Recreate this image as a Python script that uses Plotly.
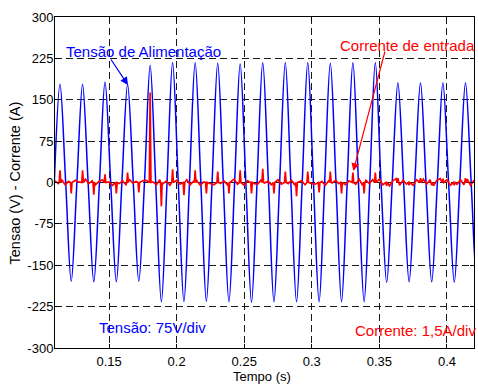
import numpy as np
import plotly.graph_objects as go

# ---------------- data ----------------
# supply voltage: zero crossings and extremes (time in s, value in V)
volt_t = [0.1095, 0.1137, 0.1179, 0.1220, 0.1262, 0.1304, 0.1345, 0.1387, 0.1429, 0.1470,
          0.1512, 0.1554, 0.1595, 0.1637, 0.1679, 0.1720, 0.1762, 0.1804, 0.1845, 0.1887,
          0.1929, 0.1970, 0.2012, 0.2054, 0.2095, 0.2137, 0.2179, 0.2220, 0.2262, 0.2304,
          0.2345, 0.2387, 0.2429, 0.2470, 0.2512, 0.2554, 0.2595, 0.2637, 0.2679, 0.2720,
          0.2762, 0.2804, 0.2845, 0.2887, 0.2929, 0.2970, 0.3012, 0.3054, 0.3095, 0.3137,
          0.3179, 0.3220, 0.3262, 0.3304, 0.3345, 0.3387, 0.3429, 0.3470, 0.3512, 0.3554,
          0.3595, 0.3637, 0.3679, 0.3720, 0.3762, 0.3804, 0.3845, 0.3887, 0.3929, 0.3970,
          0.4012, 0.4054, 0.4095, 0.4137, 0.4179, 0.4220, 0.4262]
volt_v = [0, 178, 0, -179, 0, 178, 0, -180, 0, 182,
          0, -180, 0, 178, 0, -179, 0, 212, 0, -216,
          0, 217, 0, -216, 0, 217, 0, -215, 0, 216,
          0, -216, 0, 215, 0, -217, 0, 217, 0, -216,
          0, 217, 0, -216, 0, 217, 0, -216, 0, 216,
          0, -216, 0, 217, 0, -216, 0, 217, 0, -181,
          0, 181, 0, -180, 0, 181, 0, -180, 0, 181,
          0, -181, 0, 181, 0, -180, 0]

# input current: pulses (time in s, value on the plot scale)
spike_t = [0.1137, 0.1220, 0.1304, 0.1387, 0.1470, 0.1554, 0.1637, 0.1720, 0.1804, 0.1887,
           0.1970, 0.2054, 0.2137, 0.2220, 0.2304, 0.2387, 0.2470, 0.2554, 0.2637, 0.2720,
           0.2804, 0.2887, 0.2970, 0.3054, 0.3137, 0.3220, 0.3304, 0.3387, 0.3470, 0.3554,
           0.3637, 0.3720, 0.3804, 0.3887, 0.3970, 0.4054, 0.4137]
spike_v = [22, -20, 22, -22, 15, -20, 18, -18, 163, -43,
           24, -23, 22, -20, 20, -20, 22, -20, 25, -20,
           20, -25, 20, -18, 20, -20, 18, -20, 18, -6,
           8, -5, 8, -5, 7, -5, 8]
# baseline ripple of the current
noise_v = [3, -2, 5, -4, 2, -5, 4, 1, -3, 6, -2, 3,
           -4, 2, 5, -3, 1, -5, 4, -2, 3, -4, 6, -1,
           2, -5, 3, 4, -3, 1, -4, 5, -2, 3, -5, 2,
           4, -3, -1, 5, -4, 2, 3, -5, 1, 4, -2, -4,
           5, -2, 3, -4, 1, 6, -3, 2, -5, 3, 4, -2,
           -3, 5, -1, 2, -4, 3, 5, -3, 2, -2, 4, -5,
           1, 3, -4, 5, -2, -3, 4, 2, -5, 3, -1, 4,
           -2, 5, -4, 3, 2, -3, 6, -5, 4, -2, 5, -3,
           6, -4, 5, -6, 3, 7, -5, 4, -3, 6, -5, 5,
           -4, 6, -3, 5, -6, 4, 7, -4, 5, -5, 6, -3,
           5, -4, 6, -5, 4]

x_ticks = [0.15, 0.2, 0.25, 0.3, 0.35, 0.4]
x_tick_labels = ["0.15", "0.2", "0.25", "0.3", "0.35", "0.4"]
y_ticks = [-300, -225, -150, -75, 0, 75, 150, 225, 300]
y_tick_labels = ["-300", "-225", "-150", "-75", "0", "75", "150", "225", "300"]

# ---------------- build current trace ----------------
noise_t = np.linspace(0.110, 0.420, len(noise_v))
half = 0.0006
pts = []
for t, v in zip(noise_t, noise_v):
    if min(abs(t - s) for s in spike_t) > half * 1.5:
        pts.append((t, v))
for s, v in zip(spike_t, spike_v):
    pts += [(s - half, 0), (s, v), (s + half, 0)]
pts.sort()
cur_t = [p[0] for p in pts]
cur_v = [p[1] for p in pts]

FONT = "Liberation Sans, Arial, Helvetica, sans-serif"
BLUE = "#0000FF"
RED = "#FF0000"

fig = go.Figure()
fig.add_trace(go.Scatter(x=volt_t, y=volt_v, mode="lines",
                         line=dict(color=BLUE, width=1.5, shape="spline", smoothing=1.0),
                         showlegend=False, hoverinfo="skip"))
fig.add_trace(go.Scatter(x=cur_t, y=cur_v, mode="lines",
                         line=dict(color=RED, width=1.7),
                         showlegend=False, hoverinfo="skip"))

axis_common = dict(showline=True, linecolor="black", linewidth=1, mirror="ticks",
                   ticks="inside", ticklen=4, tickcolor="black",
                   showgrid=True, gridcolor="#1a1a1a", gridwidth=1, griddash="7px,4px",
                   zeroline=False, tickfont=dict(family=FONT, size=13, color="black"),
                   automargin=False)
fig.update_xaxes(range=[0.11, 0.42], tickvals=x_ticks, ticktext=x_tick_labels,
                 ticklabelstandoff=1, **axis_common)
fig.update_yaxes(range=[-300, 300], tickvals=y_ticks, ticktext=y_tick_labels,
                 ticklabelstandoff=-2, **axis_common)

ann = []
ann.append(dict(x=0.1758, y=236.6, xref="x", yref="y", text="Tensão de Alimentação",
                showarrow=False, font=dict(family=FONT, size=15, color=BLUE)))
ann.append(dict(x=0.1640, y=176.7, ax=0.1507, ay=225.7, xref="x", yref="y",
                axref="x", ayref="y", text="", showarrow=True, arrowhead=2,
                arrowsize=1.3, arrowwidth=1.2, arrowcolor=BLUE))
ann.append(dict(x=0.3708, y=249.2, xref="x", yref="y", text="Corrente de entrada",
                showarrow=False, font=dict(family=FONT, size=15, color=RED)))
ann.append(dict(x=0.3307, y=20.8, ax=0.3544, ay=240.2, xref="x", yref="y",
                axref="x", ayref="y", text="", showarrow=True, arrowhead=2,
                arrowsize=1.3, arrowwidth=1.2, arrowcolor=RED))
ann.append(dict(x=0.1818, y=-262, xref="x", yref="y", text="Tensão: 75V/div",
                showarrow=False, font=dict(family=FONT, size=15, color=BLUE)))
ann.append(dict(x=0.3764, y=-267.4, xref="x", yref="y", text="Corrente: 1,5A/div",
                showarrow=False, font=dict(family=FONT, size=15, color=RED)))
ann.append(dict(x=0.494, y=-0.087, xref="paper", yref="paper", text="Tempo (s)",
                xanchor="center", yanchor="middle",
                showarrow=False, font=dict(family=FONT, size=13, color="black")))
ann.append(dict(x=-0.0955, y=0.5, xref="paper", yref="paper", text="Tensao (V) - Corrente (A)",
                xanchor="center", yanchor="middle",
                textangle=-90, showarrow=False, font=dict(family=FONT, size=14.5, color="black")))

fig.update_layout(width=478, height=387, margin=dict(l=55, r=4, t=17, b=39),
                  paper_bgcolor="white", plot_bgcolor="white", annotations=ann,
                  font=dict(family=FONT, color="black"))

fig.write_html("out.html")
